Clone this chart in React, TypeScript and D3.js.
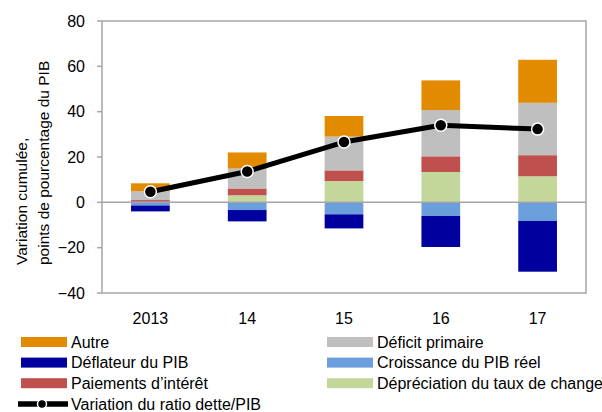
import React, { useEffect } from "react";
import * as d3 from "d3";

const categories = ["2013", "14", "15", "16", "17"];
const autre = [3.5, 7.1, 9.1, 13.1, 19.0];
const deficitPrimaire = [3.9, 8.8, 14.9, 20.4, 23.1];
const paiementsInteret = [0.8, 3.0, 4.7, 6.9, 9.3];
const depreciation = [0.2, 3.1, 9.4, 13.4, 11.5];
const croissancePIB = [-1.4, -3.4, -5.3, -6.0, -8.2];
const deflateurPIB = [-2.6, -5.0, -6.2, -13.7, -22.4];
const variationRatio = [4.7, 13.6, 26.6, 34.0, 32.3];
const yTicks = [-40, -20, 0, 20, 40, 60, 80];

const C = {
  autre: "#E38B00",
  deficit: "#BFBFBF",
  paiements: "#C0504D",
  depreciation: "#C4D79B",
  croissance: "#6B9FDC",
  deflateur: "#00009E",
};

const posSeries = [
  { key: "depreciation", values: depreciation, color: C.depreciation },
  { key: "paiements", values: paiementsInteret, color: C.paiements },
  { key: "deficit", values: deficitPrimaire, color: C.deficit },
  { key: "autre", values: autre, color: C.autre },
];
const negSeries = [
  { key: "croissance", values: croissancePIB, color: C.croissance },
  { key: "deflateur", values: deflateurPIB, color: C.deflateur },
];

const legendItems = [
  { label: "Autre", color: C.autre, col: 0, row: 0 },
  { label: "Déficit primaire", color: C.deficit, col: 1, row: 0 },
  { label: "Déflateur du PIB", color: C.deflateur, col: 0, row: 1 },
  { label: "Croissance du PIB réel", color: C.croissance, col: 1, row: 1 },
  { label: "Paiements d’intérêt", color: C.paiements, col: 0, row: 2 },
  { label: "Dépréciation du taux de change", color: C.depreciation, col: 1, row: 2 },
];

const FONT = "'Liberation Sans', Arial, sans-serif";

export default function App() {
  useEffect(() => {
    document.body.style.margin = "0";
  }, []);

  const left = 102, right = 586, top = 21, bottom = 293;
  const x = d3.scaleBand<string>().domain(categories).range([left, right]).padding(0);
  const y = d3.scaleLinear().domain([-40, 80]).range([bottom, top]);
  const bw = x.bandwidth() * 0.4;
  const cx = (c: string) => (x(c) as number) + x.bandwidth() / 2;

  const rects: React.ReactNode[] = [];
  categories.forEach((c, i) => {
    let acc = 0;
    posSeries.forEach((s) => {
      const v = s.values[i];
      rects.push(
        <rect key={s.key + c} x={cx(c) - bw / 2} y={y(acc + v)} width={bw}
          height={y(acc) - y(acc + v)} fill={s.color} />
      );
      acc += v;
    });
    let nacc = 0;
    negSeries.forEach((s) => {
      const v = s.values[i];
      rects.push(
        <rect key={s.key + c} x={cx(c) - bw / 2} y={y(nacc)} width={bw}
          height={y(nacc + v) - y(nacc)} fill={s.color} />
      );
      nacc += v;
    });
  });

  const line = d3.line<number>().x((_, i) => cx(categories[i])).y((d) => y(d));
  const fmt = (t: number) => (t < 0 ? "\u2212" + Math.abs(t) : String(t));
  const axisColor = "#A6A6A6";

  return (
    <svg width={602} height={412} style={{ display: "block" }}>
      <rect x={0} y={0} width={602} height={412} fill="#fff" />
      {rects}
      <line x1={left} x2={right} y1={y(0)} y2={y(0)} stroke={axisColor} strokeWidth={1.5} />
      <rect x={left} y={top} width={right - left} height={bottom - top} fill="none" stroke={axisColor} strokeWidth={1.5} />
      {yTicks.map((t) => (
        <g key={t}>
          <line x1={left - 5} x2={left} y1={y(t)} y2={y(t)} stroke={axisColor} strokeWidth={1.5} />
          <text x={85} y={y(t)} dy="0.35em" textAnchor="end" fontFamily={FONT} fontSize={16} fill="#000">{fmt(t)}</text>
        </g>
      ))}
      {categories.map((c) => (
        <text key={c} x={cx(c)} y={324} textAnchor="middle" fontFamily={FONT} fontSize={16} fill="#000">{c}</text>
      ))}
      <path d={line(variationRatio) || ""} fill="none" stroke="#000" strokeWidth={5} strokeLinejoin="round" />
      {variationRatio.map((v, i) => (
        <circle key={i} cx={cx(categories[i])} cy={y(v)} r={6} fill="#000" stroke="#fff" strokeWidth={1.5} />
      ))}
      <g transform="translate(27,265) rotate(-90)" fontFamily={FONT} fontSize={15.5} fill="#000">
        <text x={0} y={0}>Variation cumulée,</text>
        <text x={0} y={22}>points de pourcentage du PIB</text>
      </g>
      {legendItems.map((it) => {
        const lx = it.col === 0 ? 21 : 327;
        const ly = 342 + it.row * 20.6;
        return (
          <g key={it.label}>
            <rect x={lx} y={ly - 5} width={46} height={10} fill={it.color} />
            <text x={lx + 50} y={ly} dy="0.35em" fontFamily={FONT} fontSize={16} fill="#000">{it.label}</text>
          </g>
        );
      })}
      <line x1={18} x2={68} y1={404} y2={404} stroke="#000" strokeWidth={5.5} />
      <circle cx={42} cy={404} r={4.5} fill="#000" stroke="#fff" strokeWidth={1.5} />
      <text x={71} y={404} dy="0.35em" fontFamily={FONT} fontSize={16} fill="#000">Variation du ratio dette/PIB</text>
    </svg>
  );
}
